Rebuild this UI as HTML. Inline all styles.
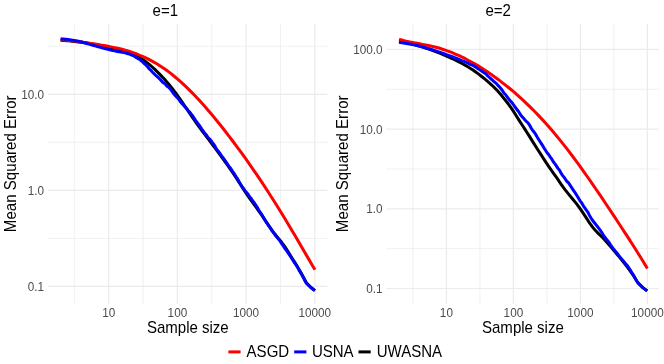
<!DOCTYPE html>
<html><head><meta charset="utf-8"><title>chart</title>
<style>
html,body{margin:0;padding:0;background:#fff;}
body{width:664px;height:364px;overflow:hidden;}
svg{display:block;will-change:transform;font-family:"Liberation Sans",sans-serif;}
.mn{stroke:#ebebeb;stroke-width:0.75;}
.mj{stroke:#ebebeb;stroke-width:1.2;}
.tk{font-size:11.73px;fill:#4d4d4d;}
.ti{font-size:14.67px;fill:#000;}
</style></head><body>
<svg width="664" height="364" viewBox="0 0 664 364">
<rect width="664" height="364" fill="#fff"/>
<line x1="74.35" x2="74.35" y1="23.4" y2="304.0" class="mn"/>
<line x1="143.05" x2="143.05" y1="23.4" y2="304.0" class="mn"/>
<line x1="211.75" x2="211.75" y1="23.4" y2="304.0" class="mn"/>
<line x1="280.45" x2="280.45" y1="23.4" y2="304.0" class="mn"/>
<line x1="48.0" x2="327.3" y1="46.25" y2="46.25" class="mn"/>
<line x1="48.0" x2="327.3" y1="142.30" y2="142.30" class="mn"/>
<line x1="48.0" x2="327.3" y1="238.40" y2="238.40" class="mn"/>
<line x1="108.70" x2="108.70" y1="23.4" y2="304.0" class="mj"/>
<line x1="177.40" x2="177.40" y1="23.4" y2="304.0" class="mj"/>
<line x1="246.10" x2="246.10" y1="23.4" y2="304.0" class="mj"/>
<line x1="314.80" x2="314.80" y1="23.4" y2="304.0" class="mj"/>
<line x1="48.0" x2="327.3" y1="94.30" y2="94.30" class="mj"/>
<line x1="48.0" x2="327.3" y1="190.35" y2="190.35" class="mj"/>
<line x1="48.0" x2="327.3" y1="286.40" y2="286.40" class="mj"/>
<path d="M60.60,40.31 L62.60,40.43 L64.60,40.56 L66.60,40.70 L68.60,40.86 L70.60,41.04 L72.60,41.23 L74.60,41.43 L76.60,41.66 L78.60,41.90 L80.60,42.17 L82.60,42.46 L84.60,42.77 L86.60,43.09 L88.60,43.44 L90.60,43.79 L92.60,44.16 L94.60,44.54 L96.60,44.93 L98.60,45.33 L100.60,45.73 L102.60,46.14 L104.60,46.55 L106.60,46.97 L108.60,47.38 L110.60,47.79 L112.60,48.21 L114.60,48.64 L116.60,49.08 L118.60,49.55 L120.60,50.04 L122.60,50.56 L124.60,51.13 L126.60,51.76 L128.60,52.47 L130.60,53.26 L132.60,54.13 L134.60,55.06 L136.60,56.05 L138.60,57.11 L140.60,58.25 L142.60,59.49 L144.60,60.85 L146.60,62.33 L148.60,63.91 L150.60,65.58 L152.60,67.33 L154.60,69.16 L156.60,71.08 L158.60,73.08 L160.60,75.14 L162.60,77.24 L164.60,79.39 L166.60,81.63 L168.60,83.97 L170.60,86.41 L172.60,88.94 L174.60,91.55 L176.60,94.24 L178.60,97.01 L180.60,99.86 L182.60,102.78 L184.60,105.74 L186.60,108.71 L188.60,111.68 L190.60,114.63 L192.60,117.57 L194.60,120.47 L196.60,123.32 L198.60,126.10 L200.60,128.83 L202.60,131.52 L204.60,134.18 L206.60,136.82 L208.60,139.46 L210.60,142.12 L212.60,144.78 L214.60,147.45 L216.60,150.13 L218.60,152.82 L220.60,155.53 L222.60,158.27 L224.60,161.04 L226.60,163.83 L228.60,166.66 L230.60,169.53 L232.60,172.47 L234.60,175.48 L236.60,178.55 L238.60,181.65 L240.60,184.76 L242.60,187.86 L244.60,190.90 L246.60,193.88 L248.60,196.79 L250.60,199.63 L252.60,202.44 L254.60,205.22 L256.60,207.99 L258.60,210.78 L260.60,213.60 L262.60,216.48 L264.60,219.42 L266.60,222.41 L268.60,225.40 L270.60,228.34 L272.60,231.16 L274.60,233.81 L276.60,236.29 L278.60,238.66 L280.60,241.04 L282.60,243.56 L284.60,246.32 L286.60,249.31 L288.60,252.48 L290.60,255.72 L292.60,258.95 L294.60,262.15 L296.60,265.37 L298.60,268.67 L300.60,272.10 L302.60,275.68 L304.60,279.42 L306.60,283.27 L306.80,283.27 L310.60,287.20 L314.90,290.60" fill="none" stroke="#000000" stroke-width="3.0" stroke-linejoin="round" stroke-linecap="butt"/>
<path d="M60.60,39.89 C61.32,39.91 63.47,39.95 64.91,40.04 C66.35,40.12 67.78,40.26 69.22,40.40 C70.66,40.54 72.10,40.71 73.54,40.89 C74.98,41.07 76.41,41.26 77.85,41.46 C79.29,41.66 80.72,41.88 82.16,42.09 C83.60,42.30 85.03,42.52 86.47,42.74 C87.91,42.96 89.34,43.18 90.78,43.41 C92.22,43.64 93.65,43.87 95.09,44.10 C96.53,44.33 97.97,44.56 99.41,44.80 C100.85,45.04 102.28,45.28 103.72,45.53 C105.16,45.78 106.59,46.04 108.03,46.31 C109.47,46.58 110.90,46.86 112.34,47.15 C113.78,47.44 115.21,47.74 116.65,48.06 C118.09,48.38 119.53,48.72 120.97,49.08 C122.41,49.44 123.84,49.82 125.28,50.22 C126.72,50.62 128.15,51.05 129.59,51.50 C131.03,51.95 132.46,52.42 133.90,52.93 C135.34,53.44 136.77,53.97 138.21,54.54 C139.65,55.11 141.09,55.71 142.53,56.34 C143.97,56.98 145.40,57.65 146.84,58.35 C148.28,59.05 149.71,59.79 151.15,60.56 C152.59,61.34 154.02,62.15 155.46,63.00 C156.90,63.85 158.33,64.73 159.77,65.66 C161.21,66.58 162.64,67.55 164.08,68.55 C165.52,69.55 166.96,70.59 168.40,71.67 C169.84,72.75 171.27,73.87 172.71,75.02 C174.15,76.17 175.58,77.36 177.02,78.59 C178.46,79.82 179.89,81.08 181.33,82.38 C182.77,83.68 184.20,85.01 185.64,86.38 C187.08,87.75 188.52,89.15 189.96,90.58 C191.40,92.01 192.83,93.47 194.27,94.97 C195.71,96.47 197.14,98.00 198.58,99.55 C200.02,101.10 201.45,102.68 202.89,104.29 C204.33,105.90 205.76,107.54 207.20,109.20 C208.64,110.86 210.08,112.55 211.52,114.26 C212.96,115.97 214.39,117.70 215.83,119.46 C217.27,121.21 218.70,122.99 220.14,124.79 C221.58,126.59 223.01,128.41 224.45,130.25 C225.89,132.09 227.32,133.95 228.76,135.83 C230.20,137.71 231.63,139.61 233.07,141.52 C234.51,143.44 235.95,145.37 237.39,147.32 C238.83,149.27 240.26,151.24 241.70,153.23 C243.14,155.22 244.57,157.22 246.01,159.24 C247.45,161.26 248.88,163.30 250.32,165.36 C251.76,167.42 253.19,169.50 254.63,171.60 C256.07,173.70 257.51,175.81 258.95,177.94 C260.39,180.07 261.82,182.22 263.26,184.40 C264.70,186.58 266.13,188.78 267.57,190.99 C269.01,193.21 270.44,195.44 271.88,197.69 C273.32,199.94 274.75,202.21 276.19,204.51 C277.63,206.81 279.07,209.12 280.51,211.46 C281.95,213.80 283.38,216.16 284.82,218.53 C286.26,220.90 287.69,223.29 289.13,225.70 C290.57,228.11 292.00,230.54 293.44,232.98 C294.88,235.42 296.31,237.86 297.75,240.32 C299.19,242.78 300.62,245.25 302.06,247.72 C303.50,250.19 304.94,252.66 306.38,255.12 C307.82,257.58 309.25,260.04 310.69,262.48 C312.13,264.92 314.28,268.53 315.00,269.74" fill="none" stroke="#ff0000" stroke-width="3.0" stroke-linejoin="round" stroke-linecap="butt"/>
<path d="M60.60,38.82 L62.10,38.92 L63.60,39.04 L65.10,39.18 L66.60,39.33 L68.10,39.51 L69.60,39.70 L71.10,39.91 L72.60,40.13 L74.10,40.38 L75.60,40.65 L77.10,40.95 L78.60,41.28 L80.10,41.64 L81.60,42.03 L83.10,42.44 L84.60,42.86 L86.10,43.29 L87.60,43.73 L89.10,44.16 L90.60,44.60 L92.10,45.02 L93.60,45.44 L95.10,45.87 L96.60,46.29 L98.10,46.72 L99.60,47.14 L101.10,47.57 L102.60,47.98 L104.10,48.39 L105.60,48.79 L107.10,49.17 L108.60,49.54 L110.10,49.90 L111.60,50.24 L113.10,50.57 L114.60,50.89 L116.10,51.19 L117.60,51.48 L119.10,51.75 L120.60,52.02 L122.10,52.31 L123.60,52.61 L125.10,52.84 L126.60,53.22 L128.10,53.78 L129.60,54.10 L131.10,54.77 L132.60,55.42 L134.10,56.03 L135.60,57.13 L137.10,58.10 L138.60,58.82 L140.10,59.89 L141.60,61.15 L143.10,62.33 L144.60,63.81 L146.10,65.19 L147.60,66.85 L149.10,68.74 L150.60,70.10 L152.10,71.76 L153.60,73.23 L155.10,74.85 L156.60,76.02 L158.10,77.37 L159.60,78.82 L161.10,80.55 L162.60,82.27 L164.10,83.21 L165.60,84.44 L167.10,86.20 L168.60,87.19 L170.10,88.82 L171.60,90.61 L173.10,92.82 L174.60,94.79 L176.10,96.42 L177.60,98.08 L179.10,99.79 L180.60,102.05 L182.10,103.61 L183.60,105.24 L185.10,107.08 L186.60,108.77 L188.10,110.48 L189.60,111.97 L191.10,113.91 L192.60,115.75 L194.10,118.14 L195.60,120.32 L197.10,122.29 L198.60,124.52 L200.10,126.43 L201.60,128.81 L203.10,130.84 L204.60,133.06 L206.10,134.71 L207.60,136.93 L209.10,138.50 L210.60,140.05 L212.10,142.21 L213.60,144.15 L215.10,146.42 L216.60,149.25 L218.10,150.99 L219.60,152.86 L221.10,155.03 L222.60,157.26 L224.10,159.27 L225.60,161.31 L227.10,163.64 L228.60,165.90 L230.10,167.71 L231.60,169.92 L233.10,172.21 L234.60,174.22 L236.10,176.74 L237.60,178.92 L239.10,181.71 L240.60,184.17 L242.10,186.57 L243.60,188.70 L245.10,190.93 L246.60,192.53 L248.10,194.42 L249.60,196.74 L251.10,198.22 L252.60,200.72 L254.10,202.40 L255.60,204.98 L257.10,207.08 L258.60,209.75 L260.10,212.20 L261.60,214.13 L263.10,216.97 L264.60,219.75 L266.10,221.97 L267.60,224.13 L269.10,226.34 L270.60,228.30 L272.10,230.90 L273.60,232.88 L275.10,234.97 L276.60,236.77 L278.10,238.63 L279.60,240.30 L281.10,242.82 L282.60,244.86 L284.10,247.30 L285.60,249.44 L287.10,251.43 L288.60,253.63 L290.10,255.80 L291.60,258.20 L293.10,260.49 L294.60,262.83 L296.10,264.87 L297.60,267.20 L299.10,270.34 L300.60,272.71 L302.10,275.08 L303.60,277.98 L305.10,281.22 L306.60,283.55 L306.80,283.55 L310.60,287.20 L314.90,290.60" fill="none" stroke="#0000ff" stroke-width="3.0" stroke-linejoin="round" stroke-linecap="butt"/>
<text transform="translate(44.0,98.80) scale(1,1.1)" class="tk" text-anchor="end">10.0</text>
<text transform="translate(44.0,194.85) scale(1,1.1)" class="tk" text-anchor="end">1.0</text>
<text transform="translate(44.0,290.90) scale(1,1.1)" class="tk" text-anchor="end">0.1</text>
<text transform="translate(108.70,317.1) scale(1,1.1)" class="tk" text-anchor="middle">10</text>
<text transform="translate(177.40,317.1) scale(1,1.1)" class="tk" text-anchor="middle">100</text>
<text transform="translate(246.10,317.1) scale(1,1.1)" class="tk" text-anchor="middle">1000</text>
<text transform="translate(314.80,317.1) scale(1,1.1)" class="tk" text-anchor="middle">10000</text>
<line x1="412.90" x2="412.90" y1="23.4" y2="304.0" class="mn"/>
<line x1="479.90" x2="479.90" y1="23.4" y2="304.0" class="mn"/>
<line x1="546.90" x2="546.90" y1="23.4" y2="304.0" class="mn"/>
<line x1="613.90" x2="613.90" y1="23.4" y2="304.0" class="mn"/>
<line x1="386.5" x2="659.0" y1="89.20" y2="89.20" class="mn"/>
<line x1="386.5" x2="659.0" y1="168.90" y2="168.90" class="mn"/>
<line x1="386.5" x2="659.0" y1="248.65" y2="248.65" class="mn"/>
<line x1="446.40" x2="446.40" y1="23.4" y2="304.0" class="mj"/>
<line x1="513.40" x2="513.40" y1="23.4" y2="304.0" class="mj"/>
<line x1="580.40" x2="580.40" y1="23.4" y2="304.0" class="mj"/>
<line x1="647.40" x2="647.40" y1="23.4" y2="304.0" class="mj"/>
<line x1="386.5" x2="659.0" y1="49.30" y2="49.30" class="mj"/>
<line x1="386.5" x2="659.0" y1="129.05" y2="129.05" class="mj"/>
<line x1="386.5" x2="659.0" y1="208.80" y2="208.80" class="mj"/>
<line x1="386.5" x2="659.0" y1="288.50" y2="288.50" class="mj"/>
<path d="M399.00,41.52 L401.00,41.84 L403.00,42.19 L405.00,42.56 L407.00,42.96 L409.00,43.38 L411.00,43.83 L413.00,44.31 L415.00,44.82 L417.00,45.36 L419.00,45.93 L421.00,46.53 L423.00,47.16 L425.00,47.81 L427.00,48.48 L429.00,49.16 L431.00,49.87 L433.00,50.59 L435.00,51.34 L437.00,52.11 L439.00,52.91 L441.00,53.72 L443.00,54.56 L445.00,55.41 L447.00,56.28 L449.00,57.17 L451.00,58.08 L453.00,59.01 L455.00,59.96 L457.00,60.94 L459.00,61.94 L461.00,62.97 L463.00,64.03 L465.00,65.13 L467.00,66.27 L469.00,67.47 L471.00,68.72 L473.00,70.04 L475.00,71.44 L477.00,72.91 L479.00,74.42 L481.00,75.97 L483.00,77.55 L485.00,79.18 L487.00,80.85 L489.00,82.58 L491.00,84.38 L493.00,86.26 L495.00,88.24 L497.00,90.34 L499.00,92.54 L501.00,94.85 L503.00,97.25 L505.00,99.71 L507.00,102.26 L509.00,104.91 L511.00,107.70 L513.00,110.67 L515.00,113.79 L517.00,116.99 L519.00,120.16 L521.00,123.25 L523.00,126.29 L525.00,129.36 L527.00,132.49 L529.00,135.67 L531.00,138.89 L533.00,142.09 L535.00,145.27 L537.00,148.43 L539.00,151.56 L541.00,154.67 L543.00,157.77 L545.00,160.86 L547.00,163.91 L549.00,166.89 L551.00,169.76 L553.00,172.54 L555.00,175.33 L557.00,178.20 L559.00,181.15 L561.00,184.09 L563.00,186.92 L565.00,189.60 L567.00,192.15 L569.00,194.61 L571.00,197.02 L573.00,199.43 L575.00,201.87 L577.00,204.40 L579.00,207.05 L581.00,209.87 L583.00,212.84 L585.00,215.93 L587.00,219.05 L589.00,222.11 L591.00,225.01 L593.00,227.64 L595.00,229.98 L597.00,232.09 L599.00,234.06 L601.00,236.02 L603.00,238.05 L605.00,240.18 L607.00,242.40 L609.00,244.70 L611.00,247.05 L613.00,249.41 L615.00,251.79 L617.00,254.18 L619.00,256.59 L621.00,259.04 L623.00,261.51 L625.00,264.03 L627.00,266.60 L629.00,269.26 L631.00,272.04 L633.00,274.97 L635.00,278.05 L637.00,281.27 L638.80,283.75 L642.80,287.60 L647.20,290.90" fill="none" stroke="#000000" stroke-width="3.0" stroke-linejoin="round" stroke-linecap="butt"/>
<path d="M399.00,39.35 C399.70,39.55 401.81,40.17 403.21,40.53 C404.61,40.89 406.02,41.19 407.42,41.49 C408.82,41.79 410.23,42.05 411.63,42.32 C413.03,42.59 414.44,42.83 415.84,43.08 C417.24,43.33 418.65,43.57 420.05,43.83 C421.45,44.09 422.86,44.35 424.26,44.63 C425.66,44.91 427.07,45.19 428.47,45.50 C429.87,45.81 431.28,46.13 432.68,46.47 C434.08,46.81 435.49,47.17 436.89,47.56 C438.29,47.95 439.70,48.36 441.10,48.79 C442.50,49.22 443.91,49.68 445.31,50.16 C446.71,50.64 448.12,51.16 449.52,51.69 C450.92,52.22 452.33,52.78 453.73,53.36 C455.13,53.94 456.54,54.55 457.94,55.18 C459.34,55.81 460.75,56.46 462.15,57.14 C463.55,57.82 464.96,58.52 466.36,59.25 C467.76,59.98 469.17,60.73 470.57,61.50 C471.97,62.27 473.38,63.06 474.78,63.88 C476.18,64.70 477.59,65.54 478.99,66.40 C480.39,67.26 481.80,68.14 483.20,69.04 C484.60,69.94 486.01,70.86 487.41,71.80 C488.81,72.74 490.22,73.71 491.62,74.69 C493.02,75.67 494.43,76.68 495.83,77.70 C497.23,78.72 498.64,79.77 500.04,80.83 C501.44,81.89 502.85,82.98 504.25,84.09 C505.65,85.20 507.06,86.32 508.46,87.47 C509.86,88.62 511.27,89.79 512.67,90.98 C514.07,92.17 515.48,93.39 516.88,94.62 C518.28,95.86 519.69,97.11 521.09,98.39 C522.50,99.67 523.90,100.97 525.31,102.29 C526.71,103.62 528.12,104.97 529.52,106.34 C530.92,107.72 532.33,109.12 533.73,110.54 C535.13,111.96 536.54,113.41 537.94,114.88 C539.34,116.35 540.75,117.85 542.15,119.37 C543.55,120.89 544.96,122.44 546.36,124.01 C547.76,125.58 549.17,127.18 550.57,128.80 C551.97,130.42 553.38,132.07 554.78,133.74 C556.18,135.41 557.59,137.12 558.99,138.84 C560.39,140.56 561.80,142.31 563.20,144.08 C564.60,145.85 566.01,147.64 567.41,149.46 C568.81,151.28 570.22,153.12 571.62,154.98 C573.02,156.84 574.43,158.73 575.83,160.63 C577.23,162.53 578.64,164.46 580.04,166.40 C581.44,168.34 582.85,170.30 584.25,172.28 C585.65,174.26 587.06,176.25 588.46,178.26 C589.86,180.27 591.27,182.29 592.67,184.33 C594.07,186.37 595.48,188.42 596.88,190.48 C598.28,192.54 599.69,194.62 601.09,196.70 C602.49,198.78 603.90,200.87 605.30,202.97 C606.70,205.07 608.11,207.18 609.51,209.29 C610.91,211.40 612.32,213.53 613.72,215.65 C615.12,217.78 616.53,219.90 617.93,222.04 C619.33,224.18 620.74,226.32 622.14,228.47 C623.54,230.62 624.95,232.78 626.35,234.94 C627.75,237.10 629.16,239.28 630.56,241.46 C631.96,243.65 633.37,245.84 634.77,248.05 C636.17,250.26 637.58,252.48 638.98,254.73 C640.38,256.98 641.79,259.24 643.19,261.54 C644.59,263.84 646.70,267.37 647.40,268.53" fill="none" stroke="#ff0000" stroke-width="3.0" stroke-linejoin="round" stroke-linecap="butt"/>
<path d="M399.00,42.31 L400.50,42.52 L402.00,42.74 L403.50,42.96 L405.00,43.20 L406.50,43.46 L408.00,43.72 L409.50,44.00 L411.00,44.29 L412.50,44.59 L414.00,44.90 L415.50,45.24 L417.00,45.58 L418.50,45.94 L420.00,46.32 L421.50,46.71 L423.00,47.11 L424.50,47.52 L426.00,47.94 L427.50,48.37 L429.00,48.81 L430.50,49.26 L432.00,49.72 L433.50,50.19 L435.00,50.67 L436.50,51.16 L438.00,51.66 L439.50,52.17 L441.00,52.69 L442.50,53.22 L444.00,53.75 L445.50,54.28 L447.00,54.82 L448.50,55.36 L450.00,55.90 L451.50,56.45 L453.00,57.00 L454.50,57.56 L456.00,58.15 L457.50,58.76 L459.00,59.43 L460.50,60.10 L462.00,60.65 L463.50,61.16 L465.00,61.88 L466.50,62.46 L468.00,63.17 L469.50,64.01 L471.00,64.57 L472.50,65.12 L474.00,66.08 L475.50,67.05 L477.00,68.01 L478.50,69.06 L480.00,69.98 L481.50,70.82 L483.00,72.03 L484.50,73.09 L486.00,74.04 L487.50,75.60 L489.00,77.01 L490.50,78.56 L492.00,79.72 L493.50,81.02 L495.00,82.28 L496.50,83.65 L498.00,85.41 L499.50,86.87 L501.00,88.76 L502.50,90.67 L504.00,93.12 L505.50,94.49 L507.00,96.72 L508.50,98.64 L510.00,100.60 L511.50,102.14 L513.00,104.04 L514.50,106.29 L516.00,108.23 L517.50,110.26 L519.00,112.21 L520.50,114.65 L522.00,116.68 L523.50,118.06 L525.00,120.01 L526.50,121.57 L528.00,122.82 L529.50,125.04 L531.00,127.80 L532.50,130.06 L534.00,131.97 L535.50,134.05 L537.00,136.80 L538.50,139.19 L540.00,141.54 L541.50,143.85 L543.00,146.17 L544.50,148.69 L546.00,151.05 L547.50,153.26 L549.00,155.07 L550.50,157.43 L552.00,159.42 L553.50,162.03 L555.00,163.88 L556.50,166.15 L558.00,168.41 L559.50,170.20 L561.00,172.92 L562.50,175.40 L564.00,177.19 L565.50,179.41 L567.00,181.51 L568.50,182.75 L570.00,185.09 L571.50,187.37 L573.00,189.75 L574.50,191.80 L576.00,194.14 L577.50,196.45 L579.00,199.08 L580.50,201.30 L582.00,203.40 L583.50,206.04 L585.00,208.12 L586.50,210.45 L588.00,212.43 L589.50,215.44 L591.00,217.97 L592.50,220.23 L594.00,222.24 L595.50,224.05 L597.00,225.97 L598.50,227.85 L600.00,229.86 L601.50,231.99 L603.00,234.57 L604.50,236.75 L606.00,238.70 L607.50,240.50 L609.00,242.33 L610.50,244.86 L612.00,246.97 L613.50,248.94 L615.00,250.80 L616.50,252.45 L618.00,254.43 L619.50,256.61 L621.00,258.27 L622.50,259.96 L624.00,261.68 L625.50,263.62 L627.00,265.18 L628.50,267.39 L630.00,269.52 L631.50,272.26 L633.00,274.45 L634.50,277.11 L636.00,280.00 L637.50,282.27 L638.80,283.68 L642.80,287.60 L647.20,290.90" fill="none" stroke="#0000ff" stroke-width="3.0" stroke-linejoin="round" stroke-linecap="butt"/>
<text transform="translate(382.5,53.80) scale(1,1.1)" class="tk" text-anchor="end">100.0</text>
<text transform="translate(382.5,133.55) scale(1,1.1)" class="tk" text-anchor="end">10.0</text>
<text transform="translate(382.5,213.30) scale(1,1.1)" class="tk" text-anchor="end">1.0</text>
<text transform="translate(382.5,293.00) scale(1,1.1)" class="tk" text-anchor="end">0.1</text>
<text transform="translate(446.40,317.1) scale(1,1.1)" class="tk" text-anchor="middle">10</text>
<text transform="translate(513.40,317.1) scale(1,1.1)" class="tk" text-anchor="middle">100</text>
<text transform="translate(580.40,317.1) scale(1,1.1)" class="tk" text-anchor="middle">1000</text>
<text transform="translate(647.40,317.1) scale(1,1.1)" class="tk" text-anchor="middle">10000</text>
<text transform="translate(165.3,16.0) scale(1.025,1.07)" class="ti" text-anchor="middle">e=1</text>
<text transform="translate(498.2,16.0) scale(1.025,1.07)" class="ti" text-anchor="middle">e=2</text>
<text transform="translate(187.8,332.5) scale(1.025,1.07)" class="ti" text-anchor="middle">Sample size</text>
<text transform="translate(522.9,332.5) scale(1.025,1.07)" class="ti" text-anchor="middle">Sample size</text>
<text transform="translate(15.9,163.8) rotate(-90) scale(1.03,1.07)" class="ti" text-anchor="middle">Mean Squared Error</text>
<text transform="translate(347.8,163.8) rotate(-90) scale(1.03,1.07)" class="ti" text-anchor="middle">Mean Squared Error</text>
<line x1="228.4" x2="240.6" y1="351.9" y2="351.9" stroke="#ff0000" stroke-width="3.0"/>
<text transform="translate(246.6,357.4) scale(1.025,1.07)" class="ti">ASGD</text>
<line x1="294.2" x2="306.4" y1="351.9" y2="351.9" stroke="#0000ff" stroke-width="3.0"/>
<text transform="translate(311.9,357.4) scale(1.025,1.07)" class="ti">USNA</text>
<line x1="358.5" x2="370.7" y1="351.9" y2="351.9" stroke="#000000" stroke-width="3.0"/>
<text transform="translate(376.7,357.4) scale(1.025,1.07)" class="ti">UWASNA</text>
</svg>
</body></html>
